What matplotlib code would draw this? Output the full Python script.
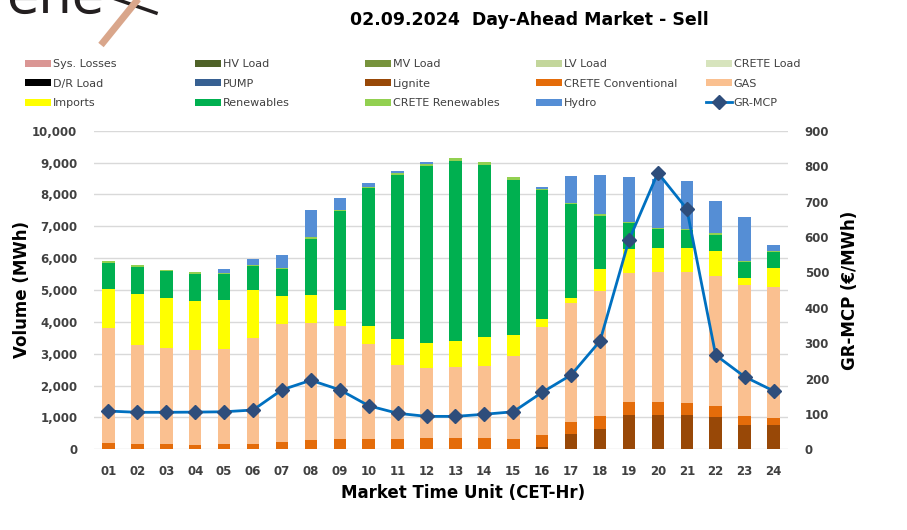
import matplotlib
matplotlib.use("Agg")
import matplotlib.pyplot as plt
from matplotlib.lines import Line2D
from matplotlib.patches import Patch
import numpy as np

hours = ["%02d" % h for h in range(1, 25)]

# load-side categories are empty on the sell side
sys_losses = [0] * 24
hv_load = [0] * 24
mv_load = [0] * 24
lv_load = [0] * 24
crete_load = [0] * 24
dr_load = [0] * 24
pump = [0] * 24

lignite = [0, 0, 0, 0, 0, 0, 0, 0, 0, 0, 0, 0, 0, 0, 0, 70,
           490, 630, 1065, 1065, 1065, 1015, 750, 750]
crete_conv = [200, 180, 160, 150, 160, 170, 230, 280, 310, 315, 335, 355,
              365, 355, 335, 380, 375, 405, 410, 415, 385, 335, 285, 235]
gas = [3620, 3080, 3020, 2960, 2985, 3330, 3700, 3680, 3550, 2975, 2300, 2195,
       2205, 2255, 2590, 3375, 3725, 3930, 4065, 4080, 4110, 4105, 4130, 4105]
imports = [1210, 1620, 1570, 1560, 1555, 1485, 880, 895, 500, 570, 835, 785,
           835, 900, 660, 270, 155, 690, 740, 760, 760, 760, 215, 595]
renewables = [820, 835, 840, 840, 810, 765, 845, 1750, 3120, 4340, 5140, 5570,
              5635, 5425, 4870, 4045, 2960, 1670, 835, 600, 565, 525, 490, 500]
crete_ren = [50, 55, 45, 50, 35, 30, 25, 45, 40, 45, 65, 50,
             105, 85, 95, 45, 40, 45, 25, 20, 35, 40, 55, 30]
hydro = [0, 0, 0, 0, 100, 180, 405, 865, 380, 115, 70, 75,
         0, 0, 0, 60, 845, 1250, 1420, 1550, 1490, 1025, 1380, 210]

gr_mcp = [108, 104.5, 104.5, 105, 106, 111, 168, 195, 168, 123, 101.7, 93,
          93, 99, 106, 161, 210, 306, 591, 781, 679, 266, 205, 165]

series = [
    ("Sys. Losses", sys_losses, "#DA9694"),
    ("HV Load", hv_load, "#4F6228"),
    ("MV Load", mv_load, "#77933C"),
    ("LV Load", lv_load, "#C3D69B"),
    ("CRETE Load", crete_load, "#D7E4BD"),
    ("D/R Load", dr_load, "#000000"),
    ("PUMP", pump, "#376092"),
    ("Lignite", lignite, "#984807"),
    ("CRETE Conventional", crete_conv, "#E46C0A"),
    ("GAS", gas, "#FAC090"),
    ("Imports", imports, "#FFFF00"),
    ("Renewables", renewables, "#00B050"),
    ("CRETE Renewables", crete_ren, "#92D050"),
    ("Hydro", hydro, "#558ED5"),
]

W, H = 907, 530
TXT = "#404040"
plt.rcParams["font.family"] = ["DejaVu Sans"]

fig = plt.figure(figsize=(W / 100, H / 100), dpi=100)


def fx(px):
    return px / W


def fy(py):
    return 1 - py / H


ax = fig.add_axes([fx(94), fy(449.3), fx(788) - fx(94), fy(130.7) - fy(449.3)])
x = np.arange(len(hours))
bottom = np.zeros(len(hours))
for name, vals, col in series:
    vals = np.array(vals, dtype=float)
    ax.bar(x, vals, 0.43, bottom=bottom, color=col, zorder=2)
    bottom += vals

ax.set_xlim(-0.5, 23.5)
ax.set_ylim(0, 10000)
ax.set_yticks(np.arange(0, 10001, 1000))
ax.yaxis.set_major_formatter(matplotlib.ticker.FuncFormatter(lambda v, p: f"{int(v):,}"))
ax.set_xticks(x)
ax.set_xticklabels(hours)
ax.grid(axis="y", color="#D9D9D9", linewidth=1, zorder=0)
ax.set_axisbelow(True)
for s in ax.spines.values():
    s.set_visible(False)
ax.tick_params(length=0, colors=TXT, labelsize=8.5)
ax.tick_params(axis="y", pad=12)
ax.tick_params(axis="x", pad=11)
for lab in ax.get_xticklabels() + ax.get_yticklabels():
    lab.set_fontweight("bold")

ax2 = ax.twinx()
ax2.plot(x, gr_mcp, color="#0070C0", linewidth=2, marker="D", markersize=7.5,
         markerfacecolor="#2E4D7B", markeredgecolor="#2E4D7B", zorder=5)
ax2.set_ylim(0, 900)
ax2.set_yticks(np.arange(0, 901, 100))
for s in ax2.spines.values():
    s.set_visible(False)
ax2.tick_params(length=0, colors=TXT, labelsize=8.5, pad=12)
for lab in ax2.get_yticklabels():
    lab.set_fontweight("bold")

fig.text(fx(22), fy(290), "Volume (MWh)", rotation=90, ha="center", va="center",
         fontsize=12, fontweight="bold")
fig.text(fx(850), fy(290), "GR-MCP (€/MWh)", rotation=90, ha="center", va="center",
         fontsize=12, fontweight="bold")
fig.text(fx(463), fy(493), "Market Time Unit (CET-Hr)", ha="center", va="center",
         fontsize=12, fontweight="bold")
fig.text(fx(529), fy(20), "02.09.2024  Day-Ahead Market - Sell", ha="center", va="center",
         fontsize=12.5, fontweight="bold")

# legend, five columns of three rows
handles = [Patch(facecolor=c, edgecolor="none") for _, _, c in series]
labels = [n for n, _, _ in series]
handles.append(Line2D([], [], color="#0070C0", linewidth=2, marker="D", markersize=7,
                      markerfacecolor="#2E4D7B", markeredgecolor="#2E4D7B"))
labels.append("GR-MCP")
col_x = [25, 195, 365, 536, 706]
for c in range(5):
    idx = [c, c + 5, c + 10]
    leg = fig.legend([handles[i] for i in idx], [labels[i] for i in idx],
                     loc="upper left", bbox_to_anchor=(fx(col_x[c]), fy(59)),
                     frameon=False, fontsize=8, labelcolor=TXT, handlelength=2.3,
                     handleheight=0.6, handletextpad=0.2, labelspacing=0.86,
                     borderpad=0, borderaxespad=0)

# logo, cut off at the top edge
fig.text(fx(6), fy(13), "ene", fontsize=38, color="#231F20", ha="left", va="baseline")
fig.add_artist(Line2D([fx(110), fx(156)], [fy(-3), fy(13)], color="#231F20",
                      linewidth=2.5, transform=fig.transFigure))
fig.add_artist(Line2D([fx(139), fx(101)], [fy(-2), fy(45)], color="#D9A68B",
                      linewidth=5, transform=fig.transFigure, solid_capstyle="butt"))

fig.savefig("out.png", dpi=100)
